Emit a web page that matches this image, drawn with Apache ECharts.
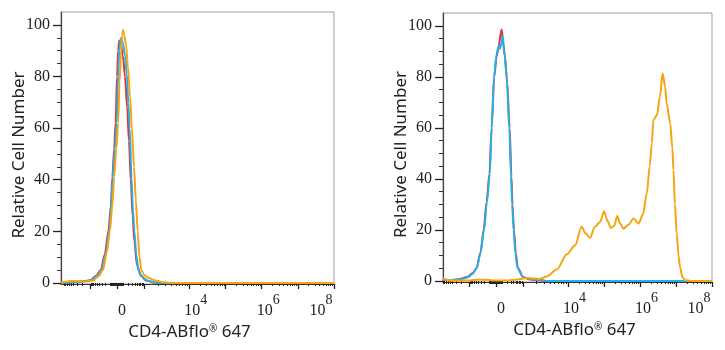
<!DOCTYPE html>
<html>
<head>
<meta charset="utf-8">
<script src="https://cdn.jsdelivr.net/npm/echarts@6/dist/echarts.min.js"></script>
<style>
html,body{margin:0;padding:0;background:#fff}
#chart{width:725px;height:350px}
</style>
</head>
<body>
<div id="chart"></div>
<script>
// Fluorescence is plotted on a biexponential display scale:
// position 2 is zero, 4/6/8 are 10^4, 10^6, 10^8 (one unit per decade above 10^4).

// Major x ticks (display units) and labelled ones
const xMajorTicks = [1.25, 2, 2.75, 4, 5, 6, 7, 8];
const xLabelPos = [2, 4, 6, 8];
const xLabelExp = [null, 4, 6, 8];

// y ticks
const yMajorTicks = [0, 20, 40, 60, 80, 100];
const yMinorTicks = [5, 10, 15, 25, 30, 35, 45, 50, 55, 65, 70, 75, 85, 90, 95];

const xTitle = 'CD4-ABflo{r|®} 647';
const yTitle = 'Relative Cell Number';

// Left panel: control histograms
const leftRed = [[0.45,0.1],[0.9,0.4],[1.25,1],[1.42,2.8],[1.55,5],[1.66,11],[1.76,20],[1.83,30],[1.87,41],[1.92,52],[1.96,62],[2.0,80],[2.03,90],[2.06,94],[2.1,93],[2.16,88],[2.22,80],[2.28,68],[2.33,55],[2.38,40],[2.43,26],[2.48,16],[2.55,7],[2.65,3],[2.8,1],[3.0,0.2],[3.2,0],[8,0]];
const leftCyan = [[0.45,0.2],[0.8,0.4],[1.1,0.6],[1.3,1.2],[1.45,2.8],[1.57,5],[1.68,11],[1.78,20],[1.84,30],[1.88,41],[1.94,52],[1.99,62],[2.03,80],[2.06,90],[2.09,94],[2.12,95],[2.16,93],[2.22,88],[2.27,81],[2.31,70],[2.35,60],[2.4,41],[2.44,28],[2.48,20],[2.53,11],[2.59,5],[2.68,2.5],[2.83,1],[3.0,0.3],[3.2,0],[8,0]];
const leftOrange = [[0.45,0.1],[0.6,0.5],[0.75,0.8],[0.95,0.7],[1.15,0.6],[1.33,1],[1.48,2.5],[1.61,5],[1.72,12],[1.8,20],[1.87,30],[1.92,41],[1.98,52],[2.03,62],[2.07,78],[2.11,90],[2.14,96],[2.17,98],[2.2,96],[2.25,92],[2.3,84],[2.36,72],[2.41,60],[2.47,45],[2.52,32],[2.57,20],[2.62,10],[2.67,5],[2.76,3],[2.86,2],[3.05,1],[3.27,0.3],[3.45,0],[8,0]];

// Right panel: stained sample (orange) against controls
const rightRed = [[0.53,0.5],[0.8,0.4],[1.0,0.8],[1.2,1.6],[1.35,3],[1.46,5],[1.57,11],[1.66,20],[1.74,31],[1.82,42],[1.88,60],[1.95,80],[2.02,88],[2.08,92],[2.13,97],[2.16,98.5],[2.2,93],[2.25,88],[2.31,78],[2.38,60],[2.43,41],[2.46,30],[2.5,20],[2.55,11],[2.61,5],[2.76,1.5],[2.95,0.6],[3.3,0.2],[3.4,0],[8,0]];
const rightCyan = [[0.53,0.8],[0.7,0.3],[0.86,0.5],[1.05,0.7],[1.22,1.5],[1.35,2.8],[1.465,5],[1.57,11],[1.67,20],[1.75,31],[1.83,42],[1.88,60],[1.95,80],[2.02,89],[2.07,92],[2.11,91],[2.15,93],[2.19,96],[2.23,90],[2.3,80],[2.37,60],[2.42,41],[2.45,30],[2.49,20],[2.54,11],[2.6,5],[2.75,1.5],[2.95,0.8],[3.1,0.6],[3.3,0.3],[3.4,0],[8,0]];
const rightOrange = [[0.53,1.2],[0.6,0.6],[0.75,0.2],[1.0,0.1],[1.3,0.2],[1.45,0.5],[1.7,0.5],[1.9,0.2],[2.3,0.2],[2.6,0.6],[2.85,1.2],[3.05,1.0],[3.22,0.8],[3.41,1.8],[3.69,4.5],[3.97,10.5],[4.2,14],[4.38,21.2],[4.5,18.5],[4.61,16.9],[4.75,21.2],[4.89,23.1],[5.0,27.3],[5.1,23.5],[5.19,20.8],[5.28,21.5],[5.37,25.5],[5.45,22.5],[5.54,20.5],[5.68,22],[5.82,24.5],[5.96,22.5],[6.08,26],[6.19,34.3],[6.27,45],[6.33,53.9],[6.37,63],[6.47,65],[6.55,72],[6.63,81.3],[6.7,76],[6.74,69.6],[6.84,61.7],[6.9,52],[6.93,43.4],[6.97,30],[7.02,18.6],[7.07,10],[7.11,5.5],[7.18,1.5],[7.25,0.3],[7.4,0],[8,0]];

const RED = '#e8313b', CYAN = '#1fb2e8', ORANGE = '#f6a411';

// Minor tick positions: dense linear region round zero, log steps in the decades
function minorTicks() {
  const out = [];
  const W = 150, span = Math.asinh(1000 / W);
  [10,20,30,40,50,60,70,80,90,100,200,300,400,500,600,700,800,900].forEach(function (v) {
    const d = 0.75 * Math.asinh(v / W) / span;
    out.push(2 + d, 2 - d);
  });
  for (let k = 2; k <= 9; k++) {
    const lk = Math.log10(k);
    out.push(1.25 - 0.75 * lk);
    out.push(2.75 + 1.25 * lk);
    for (let d = 4; d < 8; d++) out.push(d + lk);
  }
  return out;
}
const xMinorTicks = minorTicks();

const serif = 'Liberation Serif';
const sans = 'Noto Sans';

function xLabelFormatter(value) {
  for (let i = 0; i < xLabelPos.length; i++) {
    if (Math.abs(value - xLabelPos[i]) < 1e-6) {
      const e = xLabelExp[i];
      if (e === null) return '{z|0}';
      if (i === xLabelPos.length - 1) return '{be|10}{se|' + e + '}';
      return '{b|10}{s|' + e + '}';
    }
  }
  return '';
}

// exponent tokens are lifted with bottom padding
const labelRich = {
  z: {fontFamily: serif, fontSize: 16, lineHeight: 16, color: '#222', padding: [12, 0, 0, 10]},
  b: {fontFamily: serif, fontSize: 16, lineHeight: 16, color: '#222', padding: [12, 0, 0, 13]},
  s: {fontFamily: serif, fontSize: 14, lineHeight: 14, color: '#222', padding: [0, 0, 10, 0]},
  be: {fontFamily: serif, fontSize: 16, lineHeight: 16, color: '#222', padding: [12, 0, 0, 0]},
  se: {fontFamily: serif, fontSize: 14, lineHeight: 14, color: '#222', padding: [0, 26, 10, 0]}
};

function xAxesFor(gridIndex, min, nameShift) {
  return [{
    type: 'value', gridIndex: gridIndex, min: min, max: 8, position: 'bottom',
    splitLine: {show: false},
    axisLine: {show: true, onZero: false, lineStyle: {color: '#333', width: 1.2}},
    axisTick: {show: true, customValues: xMajorTicks, length: 5, lineStyle: {color: '#222', width: 1.3}},
    axisLabel: {show: true, customValues: xLabelPos, formatter: xLabelFormatter, margin: 13, rich: labelRich},
    name: xTitle, nameLocation: 'middle', nameGap: 40, nameMoveOverlap: false,
    nameTextStyle: {fontFamily: sans, fontSize: 17, color: '#222', padding: nameShift,
      rich: {r: {fontFamily: sans, fontSize: 10, color: '#222', verticalAlign: 'top'}}}
  }, {
    type: 'value', gridIndex: gridIndex, min: min, max: 8, position: 'bottom',
    splitLine: {show: false},
    axisLine: {show: false},
    axisTick: {show: true, customValues: xMinorTicks, length: 3, lineStyle: {color: '#222', width: 1}},
    axisLabel: {show: false}
  }];
}

function yAxesFor(gridIndex) {
  return [{
    type: 'value', gridIndex: gridIndex, min: -0.4, max: 105, position: 'left',
    splitLine: {show: false},
    axisLine: {show: true, onZero: false, lineStyle: {color: '#444', width: 1.2}},
    axisTick: {show: true, customValues: yMajorTicks, length: 8, lineStyle: {color: '#222', width: 1.3}},
    axisLabel: {show: true, customValues: yMajorTicks, margin: 11, fontFamily: serif, fontSize: 16, color: '#222'},
    name: yTitle, nameLocation: 'middle', nameGap: 33, nameMoveOverlap: false,
    nameTextStyle: {fontFamily: sans, fontSize: 17, color: '#222', padding: [0, 14, 0, 0]}
  }, {
    type: 'value', gridIndex: gridIndex, min: -0.4, max: 105, position: 'left',
    splitLine: {show: false},
    axisLine: {show: false},
    axisTick: {show: true, customValues: yMinorTicks, length: 4, lineStyle: {color: '#333', width: 1}},
    axisLabel: {show: false}
  }];
}

function line(data, color, xi, yi) {
  return {
    type: 'line', data: data, xAxisIndex: xi, yAxisIndex: yi,
    showSymbol: false, smooth: 0.3, smoothMonotone: 'x', silent: true,
    lineStyle: {color: color, width: 2}, animation: false
  };
}

const chart = echarts.init(document.getElementById('chart'), null, {renderer: 'canvas'});
chart.setOption({
  animation: false,
  backgroundColor: '#fff',
  grid: [
    {left: 61, top: 12, width: 273, height: 272, show: true, borderColor: '#a0a0a0', borderWidth: 1, outerBoundsMode: 'none', containLabel: false},
    {left: 443, top: 13, width: 269, height: 269, show: true, borderColor: '#a0a0a0', borderWidth: 1, outerBoundsMode: 'none', containLabel: false}
  ],
  xAxis: xAxesFor(0, 0.45, [0, 16, 0, 0]).concat(xAxesFor(1, 0.53, [0, 6, 0, 0])),
  yAxis: yAxesFor(0).concat(yAxesFor(1)),
  series: [
    line(leftRed, RED, 0, 0),
    line(leftCyan, CYAN, 0, 0),
    line(leftOrange, ORANGE, 0, 0),
    line(rightRed, RED, 2, 2),
    line(rightCyan, CYAN, 2, 2),
    line(rightOrange, ORANGE, 2, 2)
  ]
});
</script>
</body>
</html>
